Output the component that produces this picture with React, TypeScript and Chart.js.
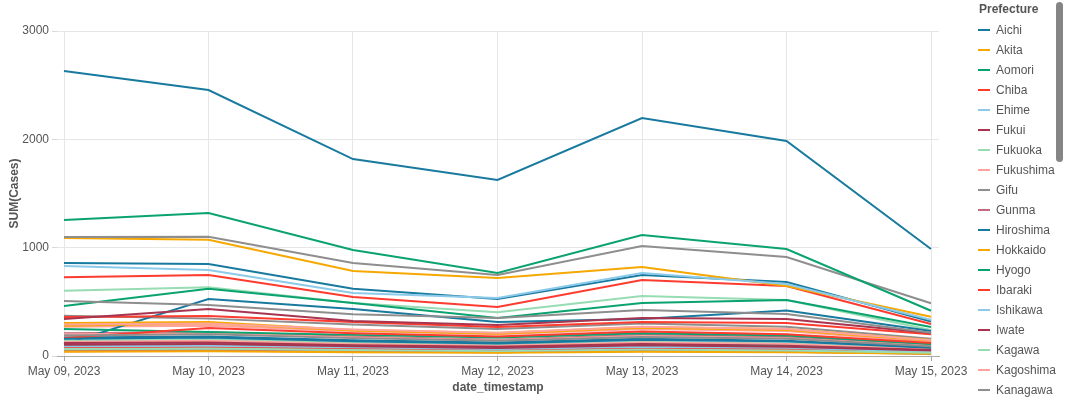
import React, { useEffect, useRef } from "react";
import { Chart, registerables } from "chart.js";

Chart.register(...registerables);

// ---- Data ----
const dates = [
  "May 09, 2023",
  "May 10, 2023",
  "May 11, 2023",
  "May 12, 2023",
  "May 13, 2023",
  "May 14, 2023",
  "May 15, 2023",
];

const yTicks = [0, 1000, 2000, 3000];

const palette = [
  "#197a9f",
  "#f6a800",
  "#0aa370",
  "#fd3b2e",
  "#8ccaea",
  "#a8354f",
  "#97dcb2",
  "#ffa39f",
  "#8e8e8e",
  "#c06c7e",
];

const prefectures = [
  "Aichi", "Akita", "Aomori", "Chiba", "Ehime", "Fukui", "Fukuoka", "Fukushima",
  "Gifu", "Gunma", "Hiroshima", "Hokkaido", "Hyogo", "Ibaraki", "Ishikawa", "Iwate",
  "Kagawa", "Kagoshima", "Kanagawa", "Kochi", "Kumamoto", "Kyoto", "Mie", "Miyagi",
  "Miyazaki", "Nagano", "Nagasaki", "Nara", "Niigata", "Oita", "Okayama", "Okinawa",
  "Osaka", "Saga", "Saitama", "Shiga", "Shimane", "Shizuoka", "Tochigi", "Tokushima",
  "Tokyo", "Tottori", "Toyama", "Wakayama", "Yamagata", "Yamaguchi", "Yamanashi",
];

const aichi = [858, 850, 620, 526, 748, 683, 318];
const akita = [95, 100, 85, 70, 95, 80, 45];
const aomori = [130, 140, 110, 95, 120, 105, 60];
const chiba = [726, 748, 545, 452, 702, 646, 295];
const ehime = [150, 160, 125, 110, 140, 125, 70];
const fukui = [70, 75, 60, 50, 65, 55, 30];
const fukuoka = [603, 634, 489, 403, 554, 517, 240];
const fukushima = [270, 280, 230, 200, 250, 230, 130];
const gifu = [372, 345, 290, 250, 300, 270, 160];
const gunma = [210, 220, 180, 150, 195, 175, 100];
const hiroshima = [110, 526, 434, 314, 342, 420, 230];
const hokkaido = [1090, 1074, 785, 720, 822, 646, 363];
const hyogo = [462, 620, 490, 350, 490, 517, 268];
const ibaraki = [360, 370, 314, 268, 314, 305, 200];
const ishikawa = [120, 130, 100, 90, 115, 100, 55];
const iwate = [100, 110, 90, 75, 100, 85, 45];
const kagawa = [80, 85, 70, 60, 75, 65, 35];
const kagoshima = [200, 210, 170, 145, 185, 165, 95];
const kanagawa = [1098, 1101, 858, 748, 1015, 914, 487];
const kochi = [55, 60, 50, 40, 55, 45, 25];
const kumamoto = [170, 180, 145, 125, 160, 140, 80];
const kyoto = [280, 300, 235, 205, 260, 240, 140];
const mie = [250, 222, 195, 170, 210, 190, 110];
const miyagi = [166, 258, 210, 180, 225, 200, 120];
const miyazaki = [110, 120, 95, 80, 105, 90, 50];
const nagano = [342, 434, 323, 286, 351, 342, 212];
const nagasaki = [140, 150, 120, 100, 130, 115, 65];
const nara = [130, 140, 110, 95, 125, 110, 60];
const niigata = [508, 471, 385, 351, 425, 388, 215];
const oita = [90, 95, 80, 65, 85, 75, 40];
const okayama = [160, 170, 135, 115, 150, 135, 75];
const okinawa = [305, 314, 240, 212, 268, 249, 148];
const osaka = [1255, 1320, 978, 766, 1117, 988, 418];
const saga = [75, 80, 65, 55, 70, 60, 35];
const saitama = [831, 794, 582, 535, 766, 665, 335];
const shiga = [120, 125, 100, 85, 110, 95, 55];
const shimane = [50, 55, 45, 35, 45, 40, 20];
const shizuoka = [290, 300, 245, 215, 270, 250, 145];
const tochigi = [190, 200, 165, 140, 175, 160, 90];
const tokushima = [45, 50, 40, 35, 45, 40, 20];
const tokyo = [2631, 2455, 1818, 1625, 2197, 1985, 988];
const tottori = [40, 45, 35, 30, 40, 35, 20];
const toyama = [100, 105, 85, 70, 95, 85, 45];
const wakayama = [85, 90, 75, 60, 80, 70, 40];
const yamagata = [90, 95, 80, 65, 85, 75, 40];
const yamaguchi = [105, 110, 90, 75, 100, 85, 50];
const yamanashi = [65, 70, 55, 45, 60, 50, 30];

const seriesValues = [
  aichi, akita, aomori, chiba, ehime, fukui, fukuoka, fukushima,
  gifu, gunma, hiroshima, hokkaido, hyogo, ibaraki, ishikawa, iwate,
  kagawa, kagoshima, kanagawa, kochi, kumamoto, kyoto, mie, miyagi,
  miyazaki, nagano, nagasaki, nara, niigata, oita, okayama, okinawa,
  osaka, saga, saitama, shiga, shimane, shizuoka, tochigi, tokushima,
  tokyo, tottori, toyama, wakayama, yamagata, yamaguchi, yamanashi,
];

const FONT = "'Liberation Sans', Arial, Helvetica, sans-serif";

function colorOf(i: number) {
  return palette[i % palette.length];
}

export default function App() {
  const canvasRef = useRef<HTMLCanvasElement | null>(null);

  useEffect(() => {
    if (!canvasRef.current) return;
    const datasets = prefectures.map((name, i) => ({
      label: name,
      data: seriesValues[i].map((v, j) => ({ x: j, y: v })),
      borderColor: colorOf(i),
      backgroundColor: colorOf(i),
      borderWidth: 2,
      pointRadius: 0,
      tension: 0,
      fill: false,
      order: -i,
    }));

    const chart = new Chart(canvasRef.current, {
      type: "line",
      data: { datasets },
      options: {
        animation: false,
        responsive: false,
        layout: { padding: { top: 31, right: 127, left: 0, bottom: 0 } },
        plugins: {
          legend: { display: false },
          tooltip: { enabled: false },
        },
        scales: {
          x: {
            type: "linear",
            min: -7 / 144.5,
            max: 6 + 8 / 144.5,
            afterBuildTicks: (scale: any) => {
              scale.ticks = dates.map((_, i) => ({ value: i }));
            },
            afterFit: (scale: any) => {
              scale.height = 44;
            },
            ticks: {
              callback: (v: any) => dates[Math.round(Number(v))] ?? "",
              color: "#555",
              font: { family: FONT, size: 12 },
              padding: 3,
              maxRotation: 0,
              autoSkip: false,
            },
            grid: {
              color: "#e6e6e6",
              lineWidth: 1,
              tickLength: 5,
              tickColor: "#aaa",
            },
            border: { display: true, color: "#aaa", width: 1 },
            title: {
              display: true,
              text: "date_timestamp",
              color: "#555",
              font: { family: FONT, size: 12, weight: "bold" },
              padding: { top: 0, bottom: 5 },
            },
          },
          y: {
            type: "linear",
            min: 0,
            max: 3000,
            afterBuildTicks: (scale: any) => {
              scale.ticks = yTicks.map((v) => ({ value: v }));
            },
            afterFit: (scale: any) => {
              scale.width = 57;
            },
            ticks: {
              callback: (v: any) => String(v),
              color: "#555",
              font: { family: FONT, size: 12 },
              padding: 3,
            },
            grid: {
              color: "#e6e6e6",
              lineWidth: 1,
              tickLength: 5,
              tickColor: "#d8d8d8",
            },
            border: { display: false },
            title: {
              display: true,
              text: "SUM(Cases)",
              color: "#555",
              font: { family: FONT, size: 12, weight: "bold" },
              padding: { top: 7, bottom: 0 },
            },
          },
        },
      } as any,
    });
    return () => chart.destroy();
  }, []);

  return (
    <div
      style={{
        position: "absolute",
        left: 0,
        top: 0,
        width: 1066,
        height: 400,
        overflow: "hidden",
        background: "#fff",
        fontFamily: FONT,
      }}
    >
      <canvas
        ref={canvasRef}
        width={1066}
        height={400}
        style={{ position: "absolute", left: 0, top: 0, width: 1066, height: 400 }}
      />
      <div style={{ position: "absolute", left: 978, top: 0, width: 80, height: 400 }}>
        <div
          style={{
            position: "absolute",
            left: 1,
            top: 2,
            fontSize: 12,
            lineHeight: "15px",
            fontWeight: "bold",
            color: "#555",
            whiteSpace: "nowrap",
          }}
        >
          Prefecture
        </div>
        {prefectures.map((name, i) => (
          <div
            key={name}
            style={{
              position: "absolute",
              left: 0,
              top: 20 + i * 20,
              height: 20,
              display: "flex",
              alignItems: "center",
              whiteSpace: "nowrap",
            }}
          >
            <div style={{ width: 12, height: 2, background: colorOf(i) }} />
            <div style={{ marginLeft: 6, fontSize: 12, color: "#555" }}>{name}</div>
          </div>
        ))}
      </div>
      <div
        style={{
          position: "absolute",
          left: 1056,
          top: 2,
          width: 7,
          height: 160,
          borderRadius: 4,
          background: "#858585",
        }}
      />
    </div>
  );
}
